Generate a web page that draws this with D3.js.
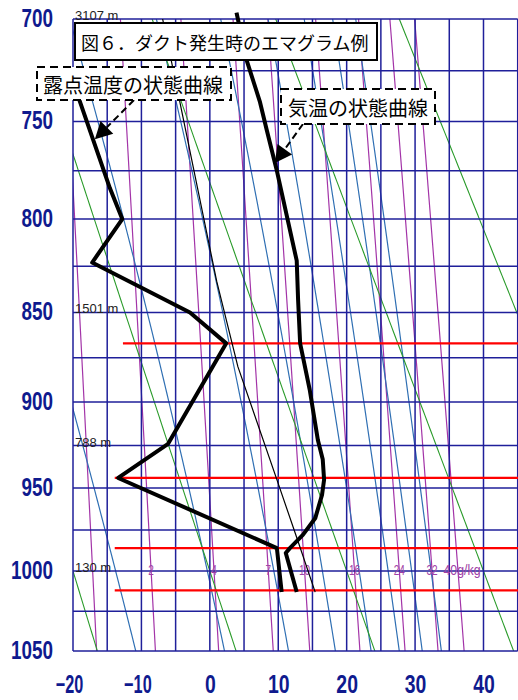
<!DOCTYPE html>
<html>
<head>
<meta charset="utf-8">
<script src="https://cdn.jsdelivr.net/npm/d3@7/dist/d3.min.js"></script>
<style>
  html, body { margin: 0; padding: 0; background: #ffffff; }
  svg { display: block; }
</style>
</head>
<body>
<svg id="chart" width="518" height="700"></svg>
<script>
// ---- Axis ticks ----
const pressureTicks = [700, 750, 800, 850, 900, 950, 1000, 1050];   // hPa
const tempTicks = [-20, -10, 0, 10, 20, 30, 40];                    // °C

// ---- Observed sounding: air temperature (hPa, °C) ----
const tempP = [697, 700, 718, 740, 754, 775, 822, 843, 867, 893, 922, 933, 945, 954, 968, 978, 986, 989, 1013];
const tempT = [3.9, 4.1, 5.2, 7.3, 8.3, 9.8, 12.7, 12.9, 13.2, 14.6, 15.8, 16.5, 16.7, 16.4, 15.4, 13.6, 11.7, 11.1, 12.7];

// ---- Observed sounding: dew point (hPa, °C) ----
const dewP = [700, 740, 784, 800, 823, 850, 867, 924, 944, 986, 1013];
const dewT = [-23.1, -19.0, -14.6, -12.8, -17.2, -2.9, 2.4, -6.1, -13.4, 9.8, 10.5];

// ---- Lifted parcel path (hPa, °C) ----
const parcelP = [700, 740, 833, 880, 945, 982, 1013];
const parcelT = [-6.9, -4.4, 1.0, 4.1, 9.8, 12.9, 15.4];

// ---- Duct levels (hPa) and the temperature where each marker starts ----
const ductLevels = [867, 944, 986, 1012];
const ductStartT = [-12.7, -13.9, -13.9, -13.9];

// ---- Standard-level heights ----
const heightLevels = [700, 850, 925, 1000];
const heightLabels = ["3107 m", "1501 m", "788 m", "130 m"];

// ---- Reference lines of the diagram ----
const mixingRatios = [1, 2, 4, 7, 10, 16, 24, 32, 40];               // g/kg
const mixingLabels = ["", "2", "4", "7", "10", "16", "24", "32", "40g/kg"];
const dryThetas = [-20, 0, 20, 40, 60];                               // potential temperature, °C
const moistThetaE = [263, 283, 303, 323, 343, 363, 383, 403];         // equivalent potential temperature, K

// ---- Layout ----
const W = 518, H = 700;
const plotL = 73, plotR = 517.7, plotT = 19, plotB = 651;

const x = d3.scaleLinear().domain([-20, 45]).range([plotL, plotR]);
const y = d3.scalePow().exponent(0.286).domain([700, 1050]).range([plotT, plotB]);

const svg = d3.select("#chart");

const defs = svg.append("defs");
defs.append("clipPath").attr("id", "plot")
  .append("rect").attr("x", plotL).attr("y", plotT)
  .attr("width", plotR - plotL).attr("height", plotB - plotT);
// same area, open at the top (the temperature trace runs just above 700 hPa)
defs.append("clipPath").attr("id", "plotOpen")
  .append("rect").attr("x", plotL).attr("y", 0)
  .attr("width", plotR - plotL).attr("height", plotB);

// ---- Thermodynamic helpers ----
const satVap = t => 6.112 * Math.exp(17.67 * t / (t + 243.5));
function mixTemp(w, p) {               // saturation temperature for mixing ratio w at p
  const e = w * p / (622 + w);
  const l = Math.log(e / 6.112);
  return 243.5 * l / (17.67 - l);
}
function thetaESat(t, p) {             // saturated equivalent potential temperature (Bolton)
  const tk = t + 273.15;
  const es = satVap(t);
  const w = 622 * es / (p - es);
  const th = tk * Math.pow(1000 / p, 0.2854 * (1 - 0.00028 * w));
  return th * Math.exp((3.376 / tk - 0.00254) * w * (1 + 0.00081 * w));
}
function moistTemp(te, p) {
  let lo = -90, hi = 60;
  for (let i = 0; i < 60; i++) {
    const mid = (lo + hi) / 2;
    if (thetaESat(mid, p) < te) lo = mid; else hi = mid;
  }
  return (lo + hi) / 2;
}

const levels = d3.range(690, 1060.1, 2.5);
const curve = d3.line().x(d => x(d[0])).y(d => y(d[1]));

const ref = svg.append("g").attr("clip-path", "url(#plot)").attr("fill", "none");

// mixing-ratio lines
ref.append("g").attr("stroke", "#a334a8").attr("stroke-width", 1.2)
  .selectAll("path").data(mixingRatios).join("path")
  .attr("d", w => curve(levels.map(p => [mixTemp(w, p), p])));

// moist (pseudo-) adiabats
ref.append("g").attr("stroke", "#2f6fb3").attr("stroke-width", 1.2)
  .selectAll("path").data(moistThetaE).join("path")
  .attr("d", te => curve(levels.map(p => [moistTemp(te, p), p])));

// dry adiabats
ref.append("g").attr("stroke", "#2a9b2a").attr("stroke-width", 1.1)
  .selectAll("path").data(dryThetas).join("path")
  .attr("d", th => curve(levels.map(p => [(th + 273.15) * Math.pow(p / 1000, 0.286) - 273.15, p])));

// ---- Grid ----
const grid = svg.append("g").attr("stroke", "#1f1f9a").attr("stroke-width", 1.5);
grid.selectAll("line.v").data(d3.range(-20, 45.1, 5)).join("line").attr("class", "v")
  .attr("x1", d => x(d)).attr("x2", d => x(d)).attr("y1", plotT).attr("y2", plotB);
grid.selectAll("line.h").data(d3.range(700, 1050.1, 25)).join("line").attr("class", "h")
  .attr("x1", plotL).attr("x2", plotR).attr("y1", d => y(d)).attr("y2", d => y(d));

// mixing-ratio labels on the 1000 hPa line (the unit rides on the last one)
svg.append("g").selectAll("text").data(mixingRatios).join("text")
  .attr("x", (w, i) => x(mixTemp(w, 1000)) + (mixingLabels[i].length > 2 ? 4 : 0))
  .attr("y", y(1000) + 4)
  .attr("text-anchor", "middle")
  .attr("font-family", "Liberation Sans, Arial, sans-serif")
  .attr("font-size", 14.5)
  .attr("fill", "#a040a6")
  .attr("textLength", (w, i) => mixingLabels[i].length > 2 ? 37 : Math.max(1, mixingLabels[i].length * 5.6))
  .attr("lengthAdjust", "spacingAndGlyphs")
  .text((w, i) => mixingLabels[i]);

// height labels
svg.append("g").selectAll("text").data(heightLevels).join("text")
  .attr("x", plotL + 2)
  .attr("y", p => y(p) + 1)
  .attr("font-family", "Liberation Sans, Arial, sans-serif")
  .attr("font-size", 13)
  .attr("fill", "#222")
  .text((p, i) => heightLabels[i]);

// ---- Duct markers ----
svg.append("g").attr("stroke", "#ff0000").attr("stroke-width", 2.2)
  .selectAll("line").data(ductLevels).join("line")
  .attr("x1", (p, i) => x(ductStartT[i])).attr("x2", W)
  .attr("y1", p => y(p)).attr("y2", p => y(p));

// ---- Sounding curves ----
const prof = svg.append("g").attr("fill", "none")
  .attr("stroke", "#000").attr("stroke-linejoin", "round");

prof.append("path").attr("clip-path", "url(#plot)").attr("stroke-width", 1.2)
  .attr("d", curve(parcelP.map((p, i) => [parcelT[i], p])));
prof.append("path").attr("clip-path", "url(#plot)").attr("stroke-width", 4)
  .attr("d", curve(dewP.map((p, i) => [dewT[i], p])));
prof.append("path").attr("clip-path", "url(#plotOpen)").attr("stroke-width", 4)
  .attr("d", curve(tempP.map((p, i) => [tempT[i], p])));

// ---- Axes ----
const axisFont = "Liberation Sans, Arial, sans-serif";
const yAxis = svg.append("g").attr("transform", `translate(${plotL},0)`)
  .call(d3.axisLeft(y).tickValues(pressureTicks).tickSize(0).tickPadding(20).tickFormat(d3.format("d")));
yAxis.select(".domain").remove();
yAxis.selectAll("text")
  .attr("dy", null).attr("y", 7)
  .attr("font-family", axisFont).attr("font-weight", "bold").attr("font-size", 25)
  .attr("fill", "#0f1a8e")
  .attr("textLength", d => String(d).length * 10.5)
  .attr("lengthAdjust", "spacingAndGlyphs");

const xAxis = svg.append("g").attr("transform", `translate(0,${plotB})`)
  .call(d3.axisBottom(x).tickValues(tempTicks).tickSize(0).tickFormat(d3.format("d")));
xAxis.select(".domain").remove();
xAxis.selectAll("text")
  .attr("dy", null).attr("y", 42)
  .attr("x", d => d < 0 ? -4 : 0)
  .attr("font-family", axisFont).attr("font-weight", "bold").attr("font-size", 25)
  .attr("fill", "#0f1a8e")
  .attr("textLength", d => d < 0 ? 6 + String(-d).length * 10.8 : String(d).length * 10.8)
  .attr("lengthAdjust", "spacingAndGlyphs");

// ---- Annotations ----
const jp = "Noto Sans CJK JP, sans-serif";

function arrow(g, x0, y0, x1, y1) {
  const dx = x1 - x0, dy = y1 - y0, len = Math.hypot(dx, dy);
  const ux = dx / len, uy = dy / len, head = 17, half = 9;
  const bx = x1 - ux * head, by = y1 - uy * head;
  g.append("line").attr("x1", x0).attr("y1", y0).attr("x2", bx).attr("y2", by)
    .attr("stroke", "#000").attr("stroke-width", 2).attr("stroke-dasharray", "7,4");
  g.append("path")
    .attr("d", `M${x1},${y1}L${bx + uy * half},${by - ux * half}L${bx - uy * half},${by + ux * half}Z`)
    .attr("fill", "#000");
}

const ann = svg.append("g");

// title box
ann.append("rect").attr("x", 75).attr("y", 23).attr("width", 302).attr("height", 37)
  .attr("fill", "#fff").attr("stroke", "#000").attr("stroke-width", 2);
ann.append("text").attr("x", 81).attr("y", 42).attr("dominant-baseline", "central")
  .attr("font-family", jp).attr("font-size", 18).attr("fill", "#000")
  .text("図６．ダクト発生時のエマグラム例");

// dew point callout
arrow(ann, 134, 100, x(-16.8), y(759));
ann.append("rect").attr("x", 37).attr("y", 67).attr("width", 194).attr("height", 33)
  .attr("fill", "#fff").attr("stroke", "#000").attr("stroke-width", 2).attr("stroke-dasharray", "8,5");
ann.append("text").attr("x", 43).attr("y", 84).attr("dominant-baseline", "central")
  .attr("font-family", jp).attr("font-size", 20).attr("fill", "#000")
  .text("露点温度の状態曲線");

// air temperature callout
arrow(ann, 303, 124, x(9.5), y(771));
ann.append("rect").attr("x", 281).attr("y", 89).attr("width", 154).attr("height", 35)
  .attr("fill", "#fff").attr("stroke", "#000").attr("stroke-width", 2).attr("stroke-dasharray", "8,5");
ann.append("text").attr("x", 288).attr("y", 107).attr("dominant-baseline", "central")
  .attr("font-family", jp).attr("font-size", 20).attr("fill", "#000")
  .text("気温の状態曲線");
</script>
</body>
</html>
